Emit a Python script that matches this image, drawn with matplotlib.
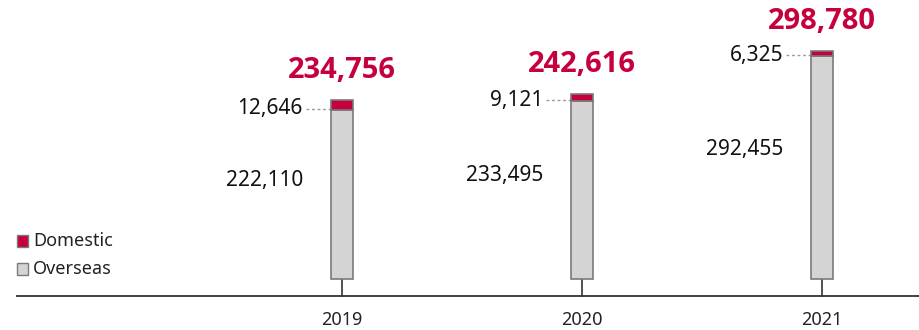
import matplotlib.pyplot as plt

plt.rcParams['font.family'] = ['Noto Sans', 'DejaVu Sans']

years = ['2019', '2020', '2021']
overseas = [222110, 233495, 292455]
domestic = [12646, 9121, 6325]
totals = [234756, 242616, 298780]

red = '#c6003d'
grey_fill = '#d4d4d4'
grey_edge = '#7a7a7a'

fig = plt.figure(figsize=(9.19, 3.30), dpi=100)
ax = fig.add_axes([0, 0, 1, 1])

# pixel -> data scale
k = 0.0007616
x = list(range(len(years)))
w = 22 / 240

ax.set_xlim(-342 / 240, (919 - 342) / 240)
ax.set_ylim(-(330 - 279) / k, 279 / k)
ax.axis('off')

base = -17 / k
ax.plot([(16 - 342) / 240, (919 - 342) / 240], [base, base], color='#333333', lw=1.3,
        solid_capstyle='butt')

ax.bar(x, overseas, width=w, color=grey_fill, edgecolor=grey_edge, linewidth=1.2, zorder=3)
ax.bar(x, domestic, width=w, bottom=overseas, color=red, edgecolor=grey_edge,
       linewidth=1.2, zorder=3)

for i in x:
    # tick from axis to bar
    ax.plot([i, i], [base, 0], color='#333333', lw=1.2)
    left = i - w / 2
    lx = left - 28 / 240
    # dotted leader for domestic value
    ax.plot([left - 25 / 240, left - 1 / 240], [overseas[i] + 1 / k, overseas[i] + 1 / k],
            color='#999999', lw=1, ls=(0, (2, 2)))
    ax.text(lx, overseas[i] + 1 / k, f'{domestic[i]:,}', ha='right', va='center',
            fontsize=15, color='#111111')
    ax.text(lx, overseas[i] * 0.58, f'{overseas[i]:,}', ha='right', va='center',
            fontsize=15, color='#111111')
    ax.text(i, totals[i] + 22 / k, f'{totals[i]:,}', ha='center', va='baseline',
            fontsize=21, fontweight='bold', family=['Open Sans', 'DejaVu Sans'],
            color=red)
    ax.text(i, base - 24 / k, years[i], ha='center', va='center', fontsize=13,
            color='#222222')

# legend
for j, (lab, fc) in enumerate([('Domestic', red), ('Overseas', grey_fill)]):
    yy = (279 - 241 - 28 * j) / k
    ax.bar((22 - 342) / 240, 12 / k, width=11 / 240, bottom=yy - 6 / k, color=fc,
           edgecolor=grey_edge, linewidth=1)
    ax.text((33 - 342) / 240, yy, lab, ha='left', va='center', fontsize=13,
            color='#222222')

fig.savefig('out.png', dpi=100)
